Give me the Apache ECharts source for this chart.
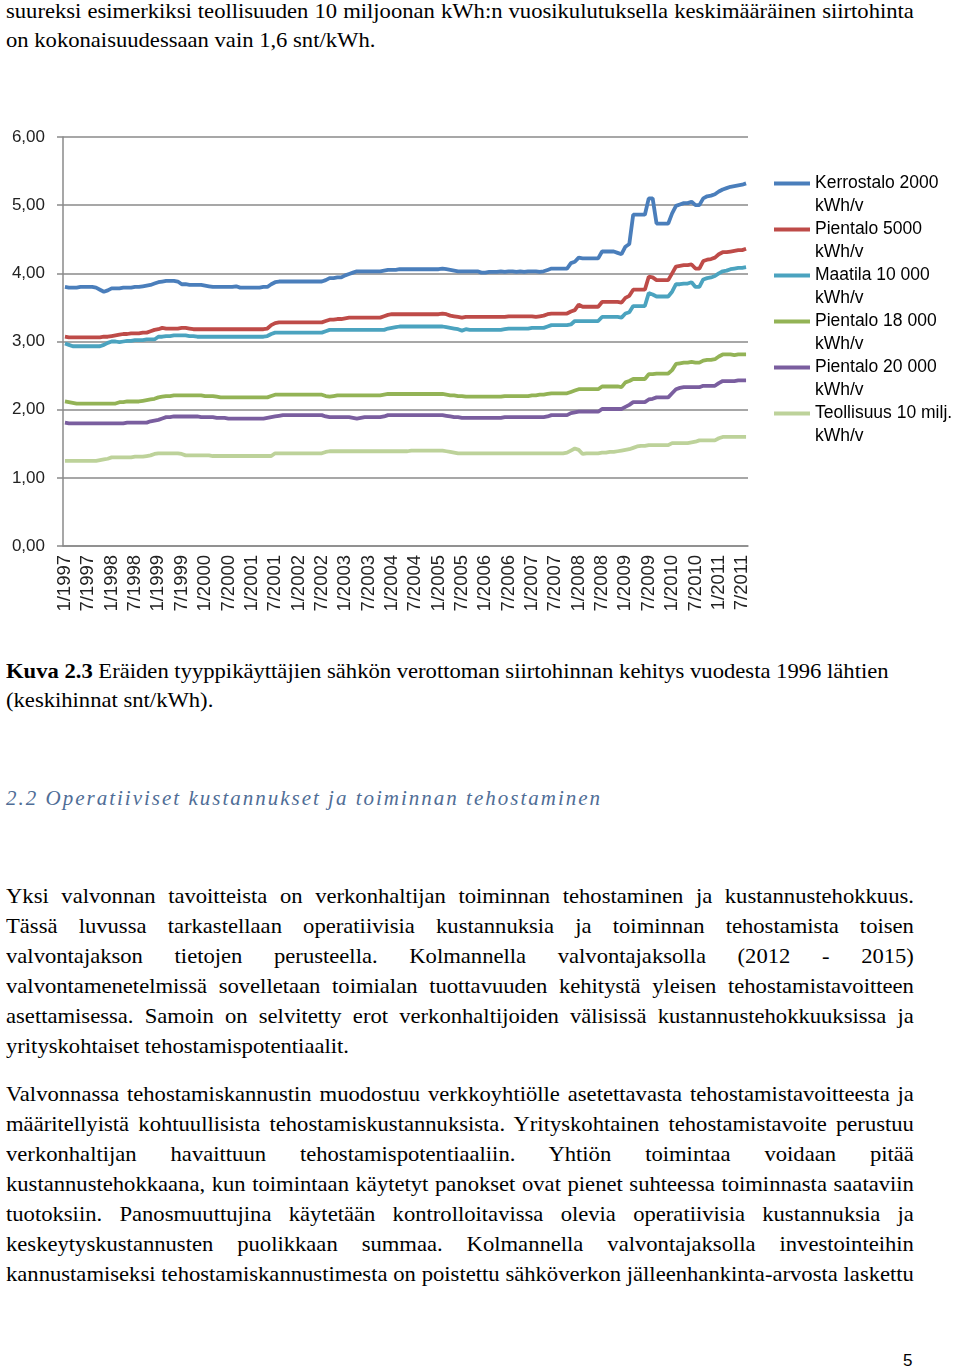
<!DOCTYPE html>
<html>
<head>
<meta charset="utf-8">
<script src="https://cdn.jsdelivr.net/npm/echarts@6/dist/echarts.min.js"></script>
<style>
  html, body { margin:0; padding:0; background:#fff; }
  body { width:960px; height:1369px; position:relative; overflow:hidden; }
  #chart { position:absolute; left:0; top:0; width:960px; height:640px; }
  .t { position:absolute; left:6px; width:843px; height:30px; line-height:30px;
       font-family:"Liberation Serif", "DejaVu Serif", serif; font-size:21px; color:#000; white-space:nowrap;
       transform:scaleX(1.077); transform-origin:0 0; }
  .j { text-align:justify; text-align-last:justify; }
  .l { text-align:left; }
  .h { position:absolute; left:6px; width:908px; height:30px; line-height:30px; white-space:nowrap;
       font-family:"Liberation Serif", "DejaVu Serif", serif; font-size:21px;
       font-style:italic; color:#4F6D96; letter-spacing:2px; }
  .pn { position:absolute; left:903px; top:1351px; font-family:"Liberation Sans", Arial, sans-serif; font-size:17px; color:#000; }
</style>
</head>
<body>
<div class="t j" style="top:-4px">suureksi esimerkiksi teollisuuden 10 miljoonan kWh:n vuosikulutuksella keskimääräinen siirtohinta</div>
<div class="t l" style="top:25px">on kokonaisuudessaan vain 1,6 snt/kWh.</div>

<div id="chart"></div>

<div class="t l" style="top:656px"><b>Kuva 2.3</b> Eräiden tyyppikäyttäjien sähkön verottoman siirtohinnan kehitys vuodesta 1996 lähtien</div>
<div class="t l" style="top:685px">(keskihinnat snt/kWh).</div>

<div class="h" style="top:783px">2.2 Operatiiviset kustannukset ja toiminnan tehostaminen</div>

<div class="t j" style="top:881px">Yksi valvonnan tavoitteista on verkonhaltijan toiminnan tehostaminen ja kustannustehokkuus.</div>
<div class="t j" style="top:911px">Tässä luvussa tarkastellaan operatiivisia kustannuksia ja toiminnan tehostamista toisen</div>
<div class="t j" style="top:941px">valvontajakson tietojen perusteella. Kolmannella valvontajaksolla (2012 - 2015)</div>
<div class="t j" style="top:971px">valvontamenetelmissä sovelletaan toimialan tuottavuuden kehitystä yleisen tehostamistavoitteen</div>
<div class="t j" style="top:1001px">asettamisessa. Samoin on selvitetty erot verkonhaltijoiden välisissä kustannustehokkuuksissa ja</div>
<div class="t l" style="top:1031px">yrityskohtaiset tehostamispotentiaalit.</div>

<div class="t j" style="top:1079px">Valvonnassa tehostamiskannustin muodostuu verkkoyhtiölle asetettavasta tehostamistavoitteesta ja</div>
<div class="t j" style="top:1109px">määritellyistä kohtuullisista tehostamiskustannuksista. Yrityskohtainen tehostamistavoite perustuu</div>
<div class="t j" style="top:1139px">verkonhaltijan havaittuun tehostamispotentiaaliin. Yhtiön toimintaa voidaan pitää</div>
<div class="t j" style="top:1169px">kustannustehokkaana, kun toimintaan käytetyt panokset ovat pienet suhteessa toiminnasta saataviin</div>
<div class="t j" style="top:1199px">tuotoksiin. Panosmuuttujina käytetään kontrolloitavissa olevia operatiivisia kustannuksia ja</div>
<div class="t j" style="top:1229px">keskeytyskustannusten puolikkaan summaa. Kolmannella valvontajaksolla investointeihin</div>
<div class="t j" style="top:1259px">kannustamiseksi tehostamiskannustimesta on poistettu sähköverkon jälleenhankinta-arvosta laskettu</div>

<div class="pn">5</div>

<script>
// Monthly categories 1/1997 .. 8/2011
const firstYear = 1997;
const monthCount = 176;

const seriesNames = [
  "Kerrostalo 2000 kWh/v",
  "Pientalo 5000 kWh/v",
  "Maatila 10 000 kWh/v",
  "Pientalo 18 000 kWh/v",
  "Pientalo 20 000 kWh/v",
  "Teollisuus 10 milj. kWh/v"
];

const kerrostalo2000 = [
  3.80,3.79,3.79,3.79,3.80,3.80,3.80,3.80,3.79,3.76,
  3.73,3.75,3.78,3.78,3.78,3.79,3.79,3.79,3.80,3.80,
  3.81,3.82,3.83,3.85,3.87,3.88,3.89,3.89,3.89,3.88,
  3.84,3.84,3.83,3.83,3.83,3.83,3.82,3.81,3.80,3.80,
  3.80,3.80,3.80,3.80,3.81,3.79,3.79,3.79,3.79,3.79,
  3.79,3.80,3.80,3.84,3.87,3.88,3.88,3.88,3.88,3.88,
  3.88,3.88,3.88,3.88,3.88,3.88,3.88,3.90,3.93,3.93,
  3.94,3.94,3.97,3.99,4.01,4.03,4.03,4.03,4.03,4.03,
  4.03,4.03,4.04,4.05,4.05,4.05,4.06,4.06,4.06,4.06,
  4.06,4.06,4.06,4.06,4.06,4.06,4.06,4.07,4.06,4.05,
  4.04,4.03,4.03,4.03,4.03,4.03,4.03,4.01,4.01,4.02,
  4.02,4.02,4.03,4.02,4.03,4.03,4.02,4.03,4.02,4.03,
  4.03,4.03,4.02,4.03,4.05,4.07,4.07,4.07,4.07,4.07,
  4.15,4.17,4.23,4.22,4.22,4.22,4.22,4.22,4.32,4.32,
  4.32,4.32,4.30,4.28,4.39,4.43,4.86,4.86,4.86,4.86,
  5.10,5.10,4.73,4.73,4.73,4.73,4.88,4.99,5.01,5.03,
  5.03,5.05,5.00,5.00,5.10,5.13,5.14,5.16,5.20,5.23,
  5.25,5.27,5.28,5.29,5.30,5.32
];

const pientalo5000 = [
  3.07,3.06,3.06,3.06,3.06,3.06,3.06,3.06,3.06,3.06,
  3.07,3.07,3.08,3.09,3.10,3.11,3.11,3.12,3.12,3.12,
  3.13,3.13,3.15,3.17,3.18,3.20,3.19,3.19,3.19,3.19,
  3.20,3.20,3.19,3.18,3.18,3.18,3.18,3.18,3.18,3.18,
  3.18,3.18,3.18,3.18,3.18,3.18,3.18,3.18,3.18,3.18,
  3.18,3.18,3.19,3.24,3.27,3.28,3.28,3.28,3.28,3.28,
  3.28,3.28,3.28,3.28,3.28,3.28,3.28,3.30,3.32,3.32,
  3.33,3.33,3.34,3.35,3.35,3.35,3.35,3.35,3.35,3.35,
  3.35,3.35,3.37,3.39,3.40,3.40,3.40,3.40,3.40,3.40,
  3.40,3.40,3.40,3.40,3.40,3.40,3.40,3.41,3.40,3.38,
  3.37,3.36,3.35,3.36,3.36,3.36,3.36,3.36,3.36,3.36,
  3.36,3.36,3.36,3.36,3.37,3.37,3.37,3.37,3.37,3.37,
  3.37,3.36,3.37,3.38,3.40,3.41,3.41,3.41,3.41,3.41,
  3.44,3.46,3.54,3.51,3.51,3.51,3.51,3.51,3.58,3.58,
  3.58,3.58,3.58,3.57,3.64,3.67,3.76,3.76,3.76,3.76,
  3.95,3.94,3.90,3.90,3.90,3.90,4.00,4.10,4.11,4.12,
  4.12,4.13,4.07,4.07,4.18,4.20,4.21,4.23,4.28,4.31,
  4.31,4.32,4.33,4.34,4.34,4.36
];

const maatila10000 = [
  2.97,2.95,2.93,2.93,2.93,2.93,2.93,2.93,2.93,2.93,
  2.95,2.98,3.00,3.00,2.99,3.00,3.01,3.01,3.02,3.02,
  3.02,3.03,3.03,3.03,3.07,3.07,3.08,3.08,3.09,3.09,
  3.09,3.09,3.08,3.08,3.07,3.07,3.07,3.07,3.07,3.07,
  3.07,3.07,3.07,3.07,3.07,3.07,3.07,3.07,3.07,3.07,
  3.07,3.07,3.08,3.11,3.13,3.13,3.13,3.13,3.13,3.13,
  3.13,3.13,3.13,3.13,3.13,3.13,3.13,3.15,3.17,3.17,
  3.17,3.17,3.17,3.17,3.17,3.17,3.17,3.17,3.17,3.17,
  3.17,3.17,3.17,3.19,3.20,3.21,3.22,3.22,3.22,3.22,
  3.22,3.22,3.22,3.22,3.22,3.22,3.22,3.22,3.21,3.20,
  3.19,3.18,3.16,3.18,3.17,3.17,3.17,3.17,3.17,3.17,
  3.17,3.17,3.17,3.18,3.19,3.19,3.19,3.19,3.19,3.19,
  3.20,3.20,3.20,3.20,3.22,3.24,3.24,3.24,3.24,3.24,
  3.25,3.30,3.30,3.30,3.30,3.30,3.30,3.30,3.36,3.36,
  3.36,3.36,3.36,3.35,3.41,3.43,3.52,3.52,3.52,3.52,
  3.71,3.69,3.66,3.66,3.66,3.66,3.73,3.84,3.84,3.85,
  3.85,3.87,3.80,3.80,3.91,3.93,3.94,3.96,4.00,4.03,
  4.04,4.06,4.07,4.08,4.08,4.09
];

const pientalo18000 = [
  2.12,2.11,2.10,2.09,2.09,2.09,2.09,2.09,2.09,2.09,
  2.09,2.09,2.09,2.09,2.11,2.11,2.12,2.12,2.12,2.12,
  2.13,2.14,2.15,2.16,2.18,2.19,2.20,2.20,2.21,2.21,
  2.21,2.21,2.21,2.21,2.21,2.21,2.20,2.20,2.20,2.19,
  2.18,2.18,2.18,2.18,2.18,2.18,2.18,2.18,2.18,2.18,
  2.18,2.18,2.18,2.20,2.22,2.22,2.22,2.22,2.22,2.22,
  2.22,2.22,2.22,2.22,2.22,2.22,2.22,2.20,2.19,2.20,
  2.21,2.21,2.21,2.21,2.21,2.21,2.21,2.21,2.21,2.21,
  2.21,2.21,2.22,2.23,2.23,2.23,2.23,2.23,2.23,2.23,
  2.23,2.23,2.23,2.23,2.23,2.23,2.23,2.23,2.22,2.21,
  2.21,2.20,2.20,2.19,2.19,2.19,2.19,2.19,2.19,2.19,
  2.19,2.19,2.19,2.20,2.20,2.20,2.20,2.20,2.20,2.20,
  2.21,2.21,2.22,2.22,2.23,2.24,2.24,2.24,2.24,2.24,
  2.26,2.28,2.30,2.30,2.30,2.30,2.30,2.30,2.34,2.34,
  2.34,2.34,2.34,2.33,2.40,2.42,2.45,2.45,2.45,2.45,
  2.52,2.52,2.53,2.53,2.53,2.53,2.58,2.67,2.68,2.69,
  2.69,2.70,2.69,2.69,2.72,2.73,2.73,2.74,2.78,2.81,
  2.81,2.81,2.80,2.81,2.81,2.81
];

const pientalo20000 = [
  1.81,1.80,1.80,1.80,1.80,1.80,1.80,1.80,1.80,1.80,
  1.80,1.80,1.80,1.80,1.80,1.80,1.81,1.81,1.81,1.81,
  1.81,1.81,1.83,1.84,1.85,1.87,1.89,1.89,1.90,1.90,
  1.90,1.90,1.90,1.90,1.90,1.89,1.89,1.89,1.89,1.88,
  1.88,1.88,1.87,1.87,1.87,1.87,1.87,1.87,1.87,1.87,
  1.87,1.87,1.88,1.89,1.90,1.91,1.92,1.92,1.92,1.92,
  1.92,1.92,1.92,1.92,1.92,1.92,1.92,1.90,1.89,1.89,
  1.89,1.89,1.89,1.89,1.88,1.87,1.88,1.89,1.89,1.89,
  1.89,1.89,1.90,1.92,1.92,1.92,1.92,1.92,1.92,1.92,
  1.92,1.92,1.92,1.92,1.92,1.92,1.92,1.92,1.91,1.90,
  1.89,1.89,1.88,1.88,1.88,1.88,1.88,1.88,1.88,1.88,
  1.88,1.88,1.88,1.89,1.89,1.89,1.89,1.89,1.89,1.89,
  1.89,1.89,1.89,1.89,1.90,1.92,1.92,1.92,1.92,1.92,
  1.95,1.96,1.97,1.97,1.97,1.97,1.97,1.97,2.01,2.01,
  2.01,2.01,2.01,2.01,2.04,2.07,2.11,2.11,2.11,2.11,
  2.15,2.16,2.18,2.18,2.18,2.18,2.24,2.30,2.32,2.33,
  2.33,2.33,2.33,2.33,2.35,2.35,2.35,2.35,2.39,2.42,
  2.42,2.42,2.42,2.43,2.43,2.43
];

const teollisuus10milj = [
  1.25,1.25,1.25,1.25,1.25,1.25,1.25,1.25,1.25,1.26,
  1.27,1.28,1.30,1.30,1.30,1.30,1.30,1.30,1.31,1.31,
  1.31,1.32,1.33,1.35,1.36,1.36,1.36,1.36,1.36,1.36,
  1.35,1.33,1.33,1.33,1.33,1.33,1.33,1.33,1.32,1.32,
  1.32,1.32,1.32,1.32,1.32,1.32,1.32,1.32,1.32,1.32,
  1.32,1.32,1.32,1.32,1.36,1.36,1.36,1.36,1.36,1.36,
  1.36,1.36,1.36,1.36,1.36,1.36,1.36,1.38,1.39,1.39,
  1.39,1.39,1.39,1.39,1.39,1.39,1.39,1.39,1.39,1.39,
  1.39,1.39,1.39,1.39,1.39,1.39,1.39,1.39,1.39,1.40,
  1.40,1.40,1.40,1.40,1.40,1.40,1.40,1.40,1.39,1.38,
  1.37,1.36,1.36,1.36,1.36,1.36,1.36,1.36,1.36,1.36,
  1.36,1.36,1.36,1.36,1.36,1.36,1.36,1.36,1.36,1.36,
  1.36,1.36,1.36,1.36,1.36,1.36,1.36,1.36,1.36,1.37,
  1.40,1.43,1.41,1.35,1.36,1.36,1.36,1.36,1.37,1.37,
  1.38,1.38,1.39,1.40,1.41,1.42,1.44,1.46,1.47,1.47,
  1.48,1.48,1.48,1.48,1.48,1.48,1.51,1.51,1.51,1.51,
  1.51,1.52,1.53,1.55,1.55,1.55,1.55,1.55,1.58,1.60,
  1.60,1.60,1.60,1.60,1.60,1.60
];

const seriesColors = ["#4A7EBB", "#BE4B48", "#4BA3BF", "#93B356", "#7A5E9F", "#BDD29A"];

const categories = [];
for (let y = firstYear; categories.length < monthCount; y++) {
  for (let m = 1; m <= 12 && categories.length < monthCount; m++) categories.push(m + "/" + y);
}

const seriesData = [kerrostalo2000, pientalo5000, maatila10000, pientalo18000, pientalo20000, teollisuus10milj];

const chart = echarts.init(document.getElementById("chart"), null, { renderer: "canvas" });
const sansFont = "Liberation Sans";
chart.setOption({
  animation: false,
  color: seriesColors,
  grid: { left: 63, top: 137, width: 685, height: 409, containLabel: false },
  legend: {
    orient: "vertical",
    left: 774,
    top: 149,
    padding: 0,
    itemWidth: 36,
    itemHeight: 4,
    itemGap: -23,
    icon: "rect",
    selectedMode: false,
    data: seriesNames,
    formatter: function (n) { return "\n" + n.replace(" kWh/v", "\nkWh/v"); },
    textStyle: { fontFamily: sansFont, fontSize: 17.5, lineHeight: 23, color: "#000" }
  },
  xAxis: {
    type: "category",
    data: categories,
    boundaryGap: true,
    axisLine: { lineStyle: { color: "#8a8a8a", width: 1.5 } },
    axisTick: { interval: 5, length: 6, lineStyle: { color: "#8a8a8a", width: 1.5 } },
    axisLabel: { interval: 5, rotate: 90, fontFamily: sansFont, fontSize: 18.5, color: "#222", margin: 9 }
  },
  yAxis: {
    type: "value",
    min: 0, max: 6, interval: 1,
    axisLine: { show: true, lineStyle: { color: "#8a8a8a", width: 1.5 } },
    axisTick: { show: true, length: 6, lineStyle: { color: "#8a8a8a", width: 1.5 } },
    splitLine: { lineStyle: { color: "#8a8a8a", width: 1.5 } },
    axisLabel: {
      formatter: function (v) { return v.toFixed(2).replace(".", ","); },
      fontFamily: sansFont, fontSize: 17, color: "#222", margin: 18
    }
  },
  series: seriesNames.map(function (name, k) {
    return {
      name: name,
      type: "line",
      data: seriesData[k],
      symbol: "none",
      smooth: false,
      lineStyle: { width: 3.8, color: seriesColors[k] },
      itemStyle: { color: seriesColors[k] }
    };
  })
});
</script>
</body>
</html>
